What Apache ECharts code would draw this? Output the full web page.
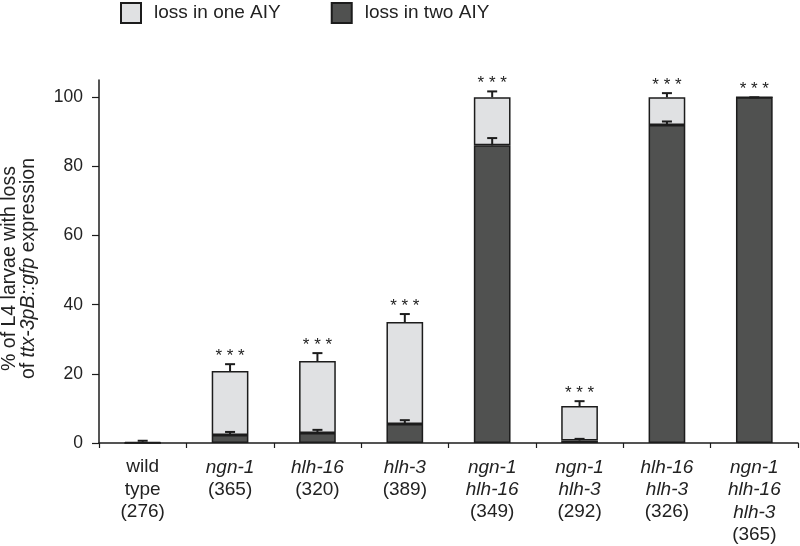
<!DOCTYPE html>
<html>
<head>
<meta charset="utf-8">
<script src="https://cdn.jsdelivr.net/npm/echarts@6/dist/echarts.min.js"></script>
<style>html,body{margin:0;padding:0;background:#fff;}#c{width:800px;height:546px;}</style>
</head>
<body>
<div id="c"></div>
<script>
// ---- data ----
const categories = ['wild type', 'ngn-1', 'hlh-16', 'hlh-3', 'ngn-1 hlh-16', 'ngn-1 hlh-3', 'hlh-16 hlh-3', 'ngn-1 hlh-16 hlh-3'];
const counts = [276, 365, 320, 389, 349, 292, 326, 365];
const lossTwo = [0, 2.3, 2.9, 5.5, 86.1, 0.7, 92, 100];
const lossTotal = [0.35, 20.8, 23.7, 35, 100, 10.7, 100, 100];
const lossOne = lossTotal.map((t, i) => +(t - lossTwo[i]).toFixed(2));
const errTotal = [0.3, 2.0, 2.3, 2.3, 1.7, 1.4, 1.2, 0];
const errTwo = [0, 0.9, 0.9, 1.1, 2.1, 0.5, 1.0, 0];
const significance = ['', '***', '***', '***', '***', '***', '***', '***'];
const yTicks = [0, 20, 40, 60, 80, 100];

const LIGHT = '#e0e1e3', DARK = '#505150', EDGE = '#1c1c1c', TXT = '#222';
const FONT = '"Liberation Sans", Arial, sans-serif';

function xLabel(value) {
  const i = categories.indexOf(value);
  let lines;
  if (value === 'wild type') lines = ['{n|wild}', '{n|type}'];
  else lines = value.split(' ').map(s => '{i|' + s + '}');
  lines.push('{n|(' + counts[i] + ')}');
  return lines.join('\n');
}

function errItem(params, api) {
  const idx = api.value(0);
  const p0 = api.coord([idx, api.value(1)]);
  const p1 = api.coord([idx, api.value(2)]);
  const cap = 5;
  const st = { stroke: EDGE, lineWidth: 2 };
  const children = [
    { type: 'line', shape: { x1: p0[0], y1: p0[1], x2: p1[0], y2: p1[1] }, style: st },
    { type: 'line', shape: { x1: p1[0] - cap, y1: p1[1], x2: p1[0] + cap, y2: p1[1] }, style: st }
  ];
  const si = api.value(3);
  if (si > 0) {
    children.push({ type: 'text', style: { text: '* * *', x: p1[0], y: p1[1] - 8, align: 'center', verticalAlign: 'middle', font: '17px ' + FONT, fill: TXT } });
  }
  return { type: 'group', children };
}

const chart = echarts.init(document.getElementById('c'), null, { renderer: 'canvas' });
chart.setOption({
  animation: false,
  textStyle: { fontFamily: FONT, color: TXT },
  legend: {
    data: ['loss in one AIY', 'loss in two AIY'],
    left: 120, top: 2, padding: 0,
    itemWidth: 20, itemHeight: 20, itemGap: 50,
    icon: 'rect',
    textStyle: { fontSize: 19, color: TXT, fontFamily: FONT, padding: [0, 0, 0, 8] }
  },
  grid: { left: 99, right: 2, top: 80, bottom: 103, containLabel: false, outerBoundsMode: 'none' },
  xAxis: {
    type: 'category',
    data: categories,
    axisLine: { lineStyle: { color: EDGE, width: 1.5 } },
    axisTick: { show: true, length: 5, lineStyle: { color: EDGE, width: 1.2 } },
    axisLabel: {
      interval: 0, margin: 13,
      formatter: xLabel,
      rich: {
        i: { fontStyle: 'italic', fontSize: 19, lineHeight: 22.5, color: TXT, fontFamily: FONT },
        n: { fontSize: 19, lineHeight: 22.5, color: TXT, fontFamily: FONT }
      }
    }
  },
  yAxis: {
    type: 'value', min: 0, max: 105,
    splitLine: { show: false },
    axisLine: { show: true, lineStyle: { color: EDGE, width: 1.5 } },
    axisTick: { show: true, length: 7, customValues: yTicks, lineStyle: { color: EDGE, width: 1.2 } },
    axisLabel: { customValues: yTicks, fontSize: 17.5, color: TXT, margin: 16, fontFamily: FONT },
    name: '{n|% of L4 larvae with loss}\n{n|of }{i|ttx-3pB::gfp}{n| expression}',
    nameLocation: 'middle',
    nameGap: 61,
    nameRotate: 90,
    nameTextStyle: {
      padding: [0, 14, 0, 0],
      rich: {
        n: { fontSize: 19.5, lineHeight: 19, color: TXT, fontFamily: FONT },
        i: { fontSize: 19.5, lineHeight: 19, color: TXT, fontStyle: 'italic', fontFamily: FONT }
      }
    }
  },
  series: [
    {
      name: 'loss in two AIY', type: 'bar', stack: 'a', barWidth: '42%',
      data: lossTwo,
      itemStyle: { color: DARK, borderColor: EDGE, borderWidth: 1.5 }
    },
    {
      name: 'loss in one AIY', type: 'bar', stack: 'a', barWidth: '42%',
      data: lossOne,
      itemStyle: { color: LIGHT, borderColor: EDGE, borderWidth: 1.5 }
    },
    {
      type: 'custom', name: 'errTwo', renderItem: errItem, z: 5, silent: true,
      data: lossTwo.map((v, i) => [i, v, v + errTwo[i], 0]).filter((d, i) => errTwo[i] > 0)
    },
    {
      type: 'custom', name: 'errTotal', renderItem: errItem, z: 5, silent: true,
      data: lossTotal.map((v, i) => [i, v, v + errTotal[i], significance[i] ? 1 : 0])
    }
  ]
});
</script>
</body>
</html>
